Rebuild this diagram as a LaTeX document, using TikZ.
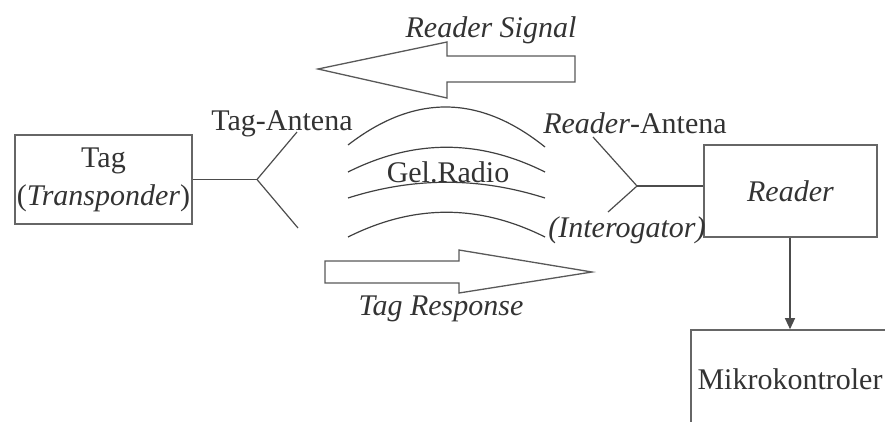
\documentclass[tikz,border=0pt]{standalone}
\usepackage{fontspec}
\setmainfont{Liberation Serif}
\usetikzlibrary{arrows.meta}

\begin{document}
\begin{tikzpicture}[x=1pt,y=1pt,yscale=-1,
  lbl/.style={font=\fontsize{30}{38}\selectfont, inner sep=0pt, text=black!80},
  box/.style={lbl, draw=black!60, line width=1.6pt},
  wire/.style={draw=black!70, line width=1.2pt},
  wave/.style={draw=black!75, line width=1.2pt},
  bigarrow/.style={draw=black!65, line width=1.3pt, fill=white}]
\clip (0,0) rectangle (885,421);
%Boxes
\node [box, minimum width=177pt, minimum height=89pt, align=center] (tag) at (103.5,179.5) {Tag\\(\textit{Transponder})};
\node [box, minimum width=173pt, minimum height=92pt] (reader) at (790.5,191) {\textit{Reader}};
\node [box, minimum width=198pt, minimum height=98pt] (mikro) at (790,379) {Mikrokontroler};
%Tag antena
\coordinate (tagJ) at (257,179.5);
\coordinate (tagUp) at (297,132);
\coordinate (tagDn) at (298,228);
\draw [wire] (tag.east) -- (tagJ);
\draw [wire] (tagUp) -- (tagJ) -- (tagDn);
%Reader antena
\coordinate (rdJ) at (637,186);
\coordinate (rdUp) at (593,137);
\coordinate (rdDn) at (608,212);
\draw [wire] (rdJ) -- (rdJ -| reader.west);
\draw [wire] (rdUp) -- (rdJ) -- (rdDn);
%Reader to Mikrokontroler
\draw [wire, -{Triangle[length=11pt,width=10pt]}] (reader.south -| mikro.north) -- (mikro.north);
%Radio waves
\draw [wave] (348,145) .. controls (414,94) and (479,94) .. (545,147);
\draw [wave] (348,172) .. controls (414,139) and (479,139) .. (545,172);
\draw [wave] (348,198) .. controls (414,177) and (479,177) .. (545,198);
\draw [wave] (348,237) .. controls (414,204) and (479,204) .. (545,237);
%Shape: Arrow left
\draw [bigarrow] (575,56) -- (447,56) -- (447,42) -- (318,69) -- (447,98) -- (447,82) -- (575,82) -- cycle;
%Shape: Arrow right
\draw [bigarrow] (325,261) -- (459,261) -- (459,250) -- (592,272) -- (459,293) -- (459,283) -- (325,283) -- cycle;
%Labels
\node [lbl, anchor=base] (rsig) at (491,37) {\textit{Reader Signal}};
\node [lbl, anchor=base] (tagant) at (282,130) {Tag-Antena};
\node [lbl, anchor=base] (rdant) at (635,133) {\textit{Reader}-Antena};
\node [lbl, anchor=base] (gel) at (448,182) {Gel.Radio};
\node [lbl, anchor=base] (inter) at (627,237) {\textit{(Interogator)}};
\node [lbl, anchor=base] (tresp) at (441,315) {\textit{Tag Response}};
\end{tikzpicture}
\end{document}
